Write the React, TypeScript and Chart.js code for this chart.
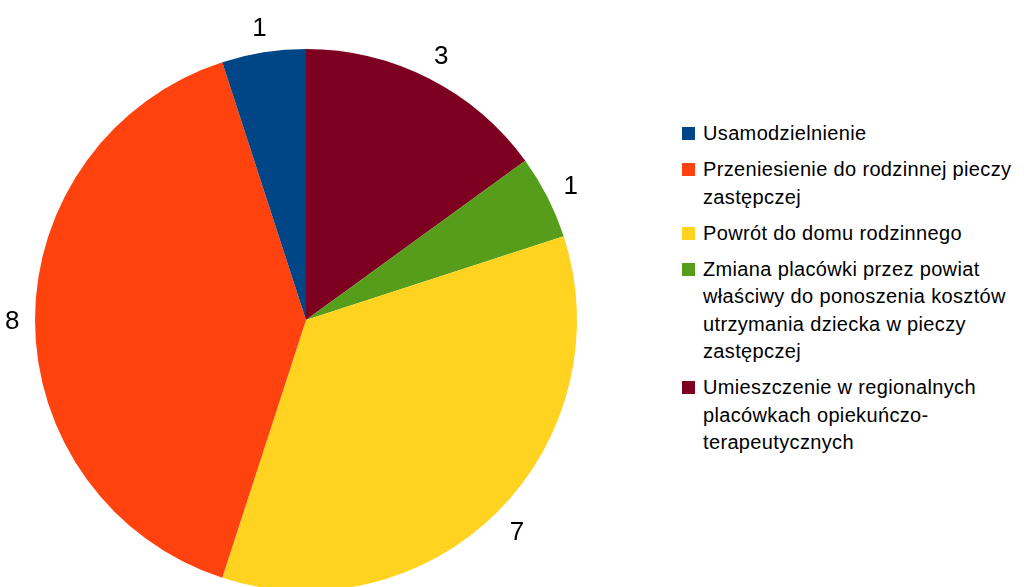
import React, { useEffect, useRef } from "react";
import { Chart, registerables } from "chart.js";

Chart.register(...registerables);

const categories = [
  "Usamodzielnienie",
  "Przeniesienie do rodzinnej pieczy\nzastępczej",
  "Powrót do domu rodzinnego",
  "Zmiana placówki przez powiat\nwłaściwy do ponoszenia kosztów\nutrzymania dziecka w pieczy\nzastępczej",
  "Umieszczenie w regionalnych\nplacówkach opiekuńczo-\nterapeutycznych",
];
const values = [1, 8, 7, 1, 3];
const colors = ["#004586", "#ff420e", "#ffd320", "#579d1c", "#7e0021"];

const FONT = "'Liberation Sans', Arial, sans-serif";

const labelPlugin = {
  id: "outsideLabels",
  afterDatasetsDraw(chart: any) {
    const ctx = chart.ctx;
    const meta = chart.getDatasetMeta(0);
    const data = chart.data.datasets[0].data;
    const size = 26;
    ctx.save();
    ctx.font = `${size}px ${FONT}`;
    ctx.fillStyle = "#000";
    ctx.textAlign = "center";
    ctx.textBaseline = "alphabetic";
    const capH = size * 0.716;
    meta.data.forEach((arc: any, i: number) => {
      const p = arc.getProps(["x", "y", "startAngle", "endAngle", "outerRadius"], true);
      const mid = (p.startAngle + p.endAngle) / 2;
      const text = String(data[i]);
      const w = ctx.measureText(text).width / 2;
      const h = capH / 2;
      const dx = Math.cos(mid);
      const dy = Math.sin(mid);
      const proj = Math.abs(dx) * w + Math.abs(dy) * h;
      const d = p.outerRadius + 15.5 + proj;
      const cx = p.x + dx * d;
      const cy = p.y + dy * d;
      ctx.fillText(text, cx, cy + capH / 2);
    });
    ctx.restore();
  },
};

export default function App() {
  const ref = useRef<HTMLCanvasElement | null>(null);

  useEffect(() => {
    if (!ref.current) return;
    const order = [4, 3, 2, 1, 0];
    const chart = new Chart(ref.current, {
      type: "pie",
      data: {
        labels: order.map((i) => categories[i]),
        datasets: [
          {
            data: order.map((i) => values[i]),
            backgroundColor: order.map((i) => colors[i]),
            borderWidth: 0,
            hoverOffset: 0,
          },
        ],
      },
      options: {
        responsive: false,
        animation: false,
        layout: { padding: 49 },
        plugins: {
          legend: { display: false },
          tooltip: { enabled: false },
        },
      },
      plugins: [labelPlugin],
    });
    return () => chart.destroy();
  }, []);

  return (
    <div
      style={{
        position: "absolute",
        left: 0,
        top: 0,
        width: 1034,
        height: 587,
        overflow: "hidden",
        background: "#fff",
        fontFamily: FONT,
      }}
    >
      <canvas
        ref={ref}
        width={640}
        height={640}
        style={{ position: "absolute", left: -14, top: 0, width: 640, height: 640 }}
      />
      <div style={{ position: "absolute", left: 682, top: 120, width: 352 }}>
        {categories.map((c, i) => (
          <div key={i} style={{ position: "relative", marginBottom: 8.6, paddingLeft: 21 }}>
            <div
              style={{
                position: "absolute",
                left: 0,
                top: 7,
                width: 13,
                height: 13,
                background: colors[i],
              }}
            />
            <div
              style={{
                fontSize: 20,
                lineHeight: "27.5px",
                letterSpacing: 0.35,
                whiteSpace: "pre",
                color: "#000",
              }}
            >
              {c}
            </div>
          </div>
        ))}
      </div>
    </div>
  );
}
